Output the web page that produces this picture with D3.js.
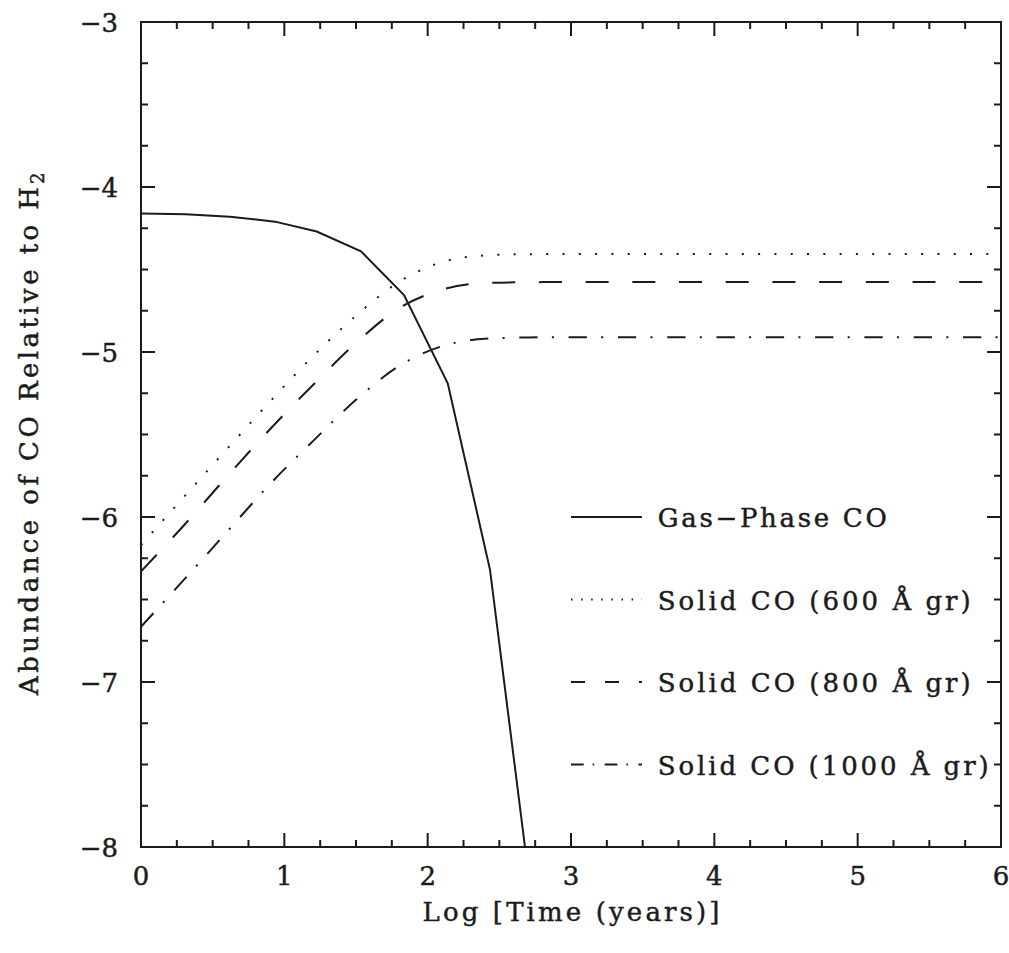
<!DOCTYPE html>
<html>
<head>
<meta charset="utf-8">
<script src="https://cdn.jsdelivr.net/npm/d3@7"></script>
<style>
  html, body { margin: 0; padding: 0; background: #fff; }
  svg { display: block; }
  text { font-family: "DejaVu Serif", serif; fill: #1b1b1b; stroke: #1b1b1b; stroke-width: 0.45px; }
</style>
</head>
<body>
<svg id="chart" width="1009" height="953"></svg>
<script>
// Log time (years) for the gas-phase model steps
const gasTime = [0, 0.31, 0.62, 0.935, 1.226, 1.535, 1.835, 2.14, 2.435, 2.74];
// Log abundance of gas-phase CO relative to H2
const gasCO = [-4.16, -4.165, -4.18, -4.21, -4.27, -4.39, -4.655, -5.19, -6.32, -8.42];

// Log time grid shared by the solid CO curves
const solidTime = [0, 0.3, 0.6, 0.9, 1.2, 1.5, 1.8, 2.1, 2.4, 2.7, 3, 4, 5, 6];
// Solid CO abundance for three grain sizes
const solid600 = [-6.17, -5.878, -5.588, -5.30, -5.025, -4.78, -4.575, -4.455, -4.415, -4.407, -4.406, -4.406, -4.406, -4.406];
const solid800 = [-6.33, -6.05, -5.755, -5.468, -5.2, -4.945, -4.735, -4.622, -4.582, -4.577, -4.576, -4.576, -4.576, -4.576];
const solid1000 = [-6.665, -6.38, -6.09, -5.80, -5.54, -5.29, -5.085, -4.965, -4.92, -4.912, -4.91, -4.91, -4.91, -4.91];

const seriesLabels = ["Gas\u2212Phase CO", "Solid CO (600 \u00C5 gr)", "Solid CO (800 \u00C5 gr)", "Solid CO (1000 \u00C5 gr)"];

const xTicks = [0, 1, 2, 3, 4, 5, 6];
const yTicks = [-8, -7, -6, -5, -4, -3];

const svg = d3.select("#chart");
const margin = { left: 141, top: 22, right: 8, bottom: 106 };
const W = 1009, H = 953;
const x0 = margin.left, x1 = W - margin.right;
const y0 = margin.top, y1 = H - margin.bottom;

const x = d3.scaleLinear().domain([0, 6]).range([x0, x1]);
const y = d3.scaleLinear().domain([-8, -3]).range([y1, y0]);

const ink = "#1b1b1b";

// clip region for the data curves
svg.append("defs").append("clipPath").attr("id", "plotClip")
  .append("rect").attr("x", x0).attr("y", y0).attr("width", x1 - x0).attr("height", y1 - y0);

// ticks on all four sides, pointing inward
const majorLen = 14, minorLen = 7;
const minorX = d3.range(0, 6.001, 0.25).filter(v => Math.abs(v - Math.round(v)) > 1e-6);
const minorY = d3.range(-8, -2.999, 0.25).filter(v => Math.abs(v - Math.round(v)) > 1e-6);

const axes = svg.append("g").attr("stroke", ink).attr("stroke-width", 2).attr("fill", "none");

function hTicks(sel, vals, len) {
  vals.forEach(v => {
    sel.append("line").attr("x1", x(v)).attr("x2", x(v)).attr("y1", y1).attr("y2", y1 - len);
    sel.append("line").attr("x1", x(v)).attr("x2", x(v)).attr("y1", y0).attr("y2", y0 + len);
  });
}
function vTicks(sel, vals, len) {
  vals.forEach(v => {
    sel.append("line").attr("y1", y(v)).attr("y2", y(v)).attr("x1", x0).attr("x2", x0 + len);
    sel.append("line").attr("y1", y(v)).attr("y2", y(v)).attr("x1", x1).attr("x2", x1 - len);
  });
}
hTicks(axes, xTicks, majorLen);
hTicks(axes, minorX, minorLen);
vTicks(axes, yTicks, majorLen);
vTicks(axes, minorY, minorLen);

axes.append("rect").attr("x", x0).attr("y", y0).attr("width", x1 - x0).attr("height", y1 - y0);

// tick labels
const fmt = v => (v < 0 ? "\u2212" + Math.abs(v) : String(v));
svg.append("g").selectAll("text").data(xTicks).join("text")
  .attr("x", d => x(d)).attr("y", y1 + 38)
  .attr("text-anchor", "middle").attr("font-size", 26)
  .text(fmt);
svg.append("g").selectAll("text").data(yTicks).join("text")
  .attr("x", x0 - 23).attr("y", d => y(d) + 9.5)
  .attr("text-anchor", "end").attr("font-size", 26)
  .text(fmt);

// axis titles
svg.append("text")
  .attr("x", (x0 + x1) / 2).attr("y", 921)
  .attr("text-anchor", "middle").attr("font-size", 26)
  .attr("textLength", 297).attr("lengthAdjust", "spacing")
  .text("Log [Time (years)]");

const yTitle = svg.append("g").attr("transform", "translate(38,695) rotate(-90)");
yTitle.append("text").attr("x", 0).attr("y", 0).attr("font-size", 26)
  .attr("textLength", 508).attr("lengthAdjust", "spacing")
  .text("Abundance of CO Relative to H");
yTitle.append("text").attr("x", 511).attr("y", 6).attr("font-size", 18).text("2");

// data curves
const plot = svg.append("g").attr("clip-path", "url(#plotClip)")
  .attr("fill", "none").attr("stroke", ink).attr("stroke-width", 2);

const gasLine = d3.line().x(d => x(d[0])).y(d => y(d[1]));
const solidLine = d3.line().curve(d3.curveMonotoneX).x(d => x(d[0])).y(d => y(d[1]));

plot.append("path").attr("d", gasLine(d3.zip(gasTime, gasCO)));

const solidSeries = [
  { values: solid600, dash: "2 14.3" },
  { values: solid800, dash: "23 23.7" },
  { values: solid1000, dash: "18.3 14.3 2 14.7" }
];
solidSeries.forEach(s => {
  plot.append("path")
    .attr("d", solidLine(d3.zip(solidTime, s.values)))
    .attr("stroke-dasharray", s.dash);
});

// legend
const legendDash = [null, "1.5 8.6", "14 20", "12.7 9 1.5 10.5"];
const legendWidths = [229, 313, 313, 331];
const legendRows = [-6, -6.5, -7, -7.5];
const legend = svg.append("g");
seriesLabels.forEach((label, i) => {
  const ly = y(legendRows[i]);
  legend.append("line")
    .attr("x1", x(3.0)).attr("x2", x(3.495)).attr("y1", ly).attr("y2", ly)
    .attr("stroke", ink).attr("stroke-width", 2)
    .attr("stroke-dasharray", legendDash[i]);
  legend.append("text")
    .attr("x", x(3.605)).attr("y", ly + 10)
    .attr("font-size", 26)
    .attr("textLength", legendWidths[i]).attr("lengthAdjust", "spacing")
    .text(label);
});
</script>
</body>
</html>
